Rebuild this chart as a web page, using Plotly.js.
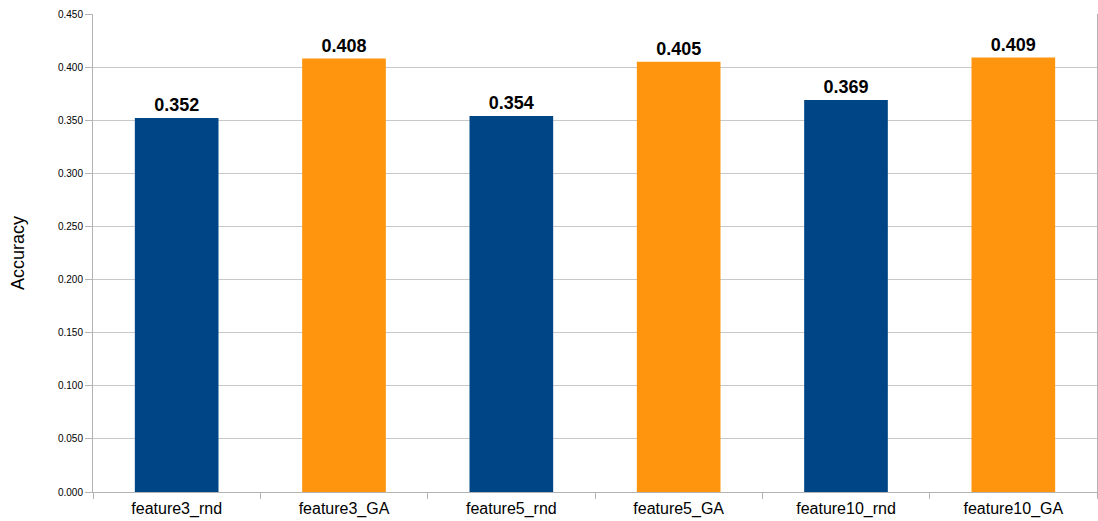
<!DOCTYPE html>
<html>
<head>
<meta charset="utf-8">
<script src="https://cdn.plot.ly/plotly-3.0.1.min.js"></script>
<style>html,body{margin:0;padding:0;background:#fff;}#chart{width:1098px;height:521px;}</style>
</head>
<body>
<div id="chart"></div>
<script>
const categories = ["feature3_rnd", "feature3_GA", "feature5_rnd", "feature5_GA", "feature10_rnd", "feature10_GA"];
const accuracy = [0.352, 0.408, 0.354, 0.405, 0.369, 0.409];
const barColors = ["#004586", "#ff950e", "#004586", "#ff950e", "#004586", "#ff950e"];
const yTicks = [0, 0.05, 0.1, 0.15, 0.2, 0.25, 0.3, 0.35, 0.4, 0.45];

const trace = {
  type: "bar",
  x: categories,
  y: accuracy,
  marker: {color: barColors},
  width: 0.5,
  text: accuracy.map(v => v.toFixed(3)),
  textposition: "outside",
  cliponaxis: false,
  textfont: {family: "Liberation Sans, Arial, sans-serif", size: 18, color: "#000", weight: "bold"},
  hoverinfo: "none"
};

const layout = {
  width: 1098, height: 521,
  margin: {l: 93, r: 1, t: 14, b: 29},
  paper_bgcolor: "#fff", plot_bgcolor: "#fff",
  showlegend: false,
  bargap: 0.5,
  font: {family: "Liberation Sans, Arial, sans-serif", color: "#000"},
  xaxis: {
    type: "category",
    tickson: "boundaries",
    ticks: "outside", ticklen: 6, tickcolor: "#b3b3b3",
    showgrid: false,
    showline: true, linecolor: "#b3b3b3", linewidth: 1,
    tickfont: {size: 16, color: "#000"},
    ticklabelstandoff: 2,
    range: [-0.5, 5.5]
  },
  yaxis: {
    range: [0, 0.45],
    tickvals: yTicks,
    tickformat: ".3f",
    ticks: "outside", ticklen: 7, tickcolor: "#b3b3b3",
    showgrid: true, gridcolor: "#c8c8c8", gridwidth: 1,
    showline: true, linecolor: "#b3b3b3", linewidth: 1, mirror: true,
    zeroline: false,
    tickfont: {size: 10, color: "#000"},
    title: {text: "Accuracy", font: {size: 18, color: "#000"}, standoff: 28}
  }
};

Plotly.newPlot("chart", [trace], layout, {staticPlot: true, displayModeBar: false});
</script>
</body>
</html>
